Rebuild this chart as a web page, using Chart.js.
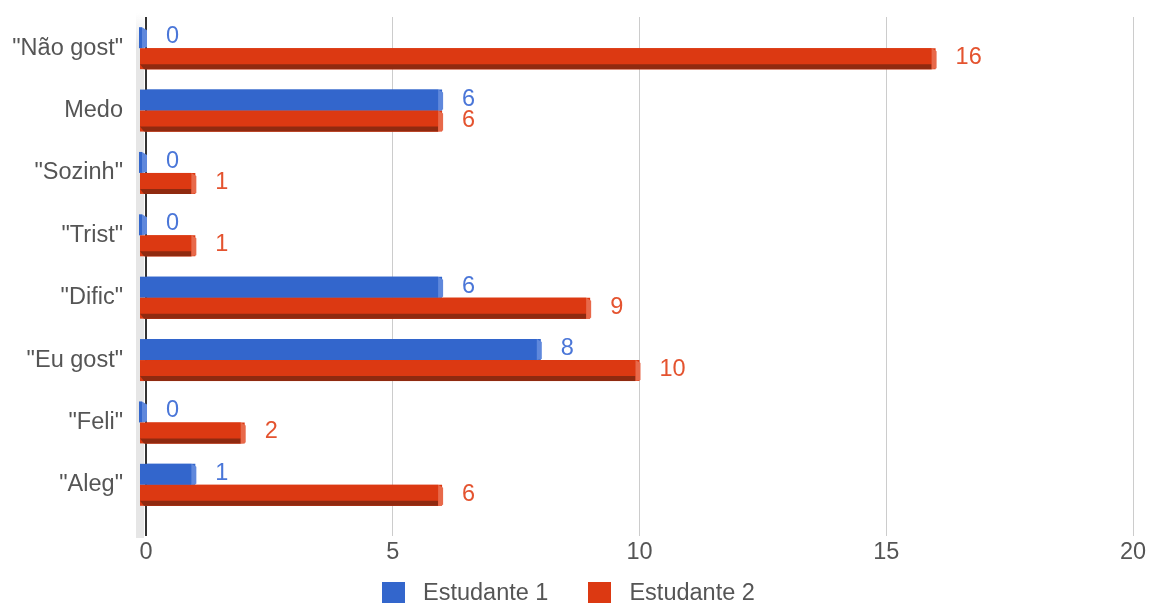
<!DOCTYPE html>
<html>
<head>
<meta charset="utf-8">
<script src="https://cdn.jsdelivr.net/npm/chart.js@4"></script>
<style>
  body { margin: 0; background: #fff; }
  #wrap { position: relative; width: 1158px; height: 605px; }
  #legend { position: absolute; left: 382px; top: 580px; display: flex; align-items: center;
            font: 23.5px "Liberation Sans", Arial, sans-serif; color: #555; line-height: 24px; }
  .item { display: flex; align-items: center; margin-right: 40px; }
  .box { width: 23px; height: 21px; margin-right: 18px; }
</style>
</head>
<body>
<div id="wrap">
  <canvas id="chart" width="1158" height="605"></canvas>
  <div id="legend"></div>
</div>
<script>
// --- 데이터 ---
const categories = ['"Não gost"', 'Medo', '"Sozinh"', '"Trist"', '"Dific"', '"Eu gost"', '"Feli"', '"Aleg"'];
const seriesNames = ['Estudante 1', 'Estudante 2'];
const estudante1 = [0, 6, 0, 0, 6, 8, 0, 1];
const estudante2 = [16, 6, 1, 1, 9, 10, 2, 6];
const xTicks = [0, 5, 10, 15, 20];

const faceColors = ['#3366cc', '#dc3912'];
const sideColors = ['#5f88dc', '#e8694a'];
const darkColors = ['#22469a', '#8f2a10'];
const labelColors = ['#4a76d8', '#e4532f'];
const FONT = '"Liberation Sans", Arial, sans-serif';
const FONT_SIZE = 23.5;

// --- 3D 막대 효과 + 값 라벨 ---
const bar3d = {
    id: 'bar3d',
    beforeDatasetsDraw(chart) {
        const { ctx, chartArea } = chart;
        const g = ctx.createLinearGradient(0, chartArea.top - 4, 0, chartArea.top + 30);
        g.addColorStop(0, 'rgba(230,230,230,0)');
        g.addColorStop(1, 'rgba(230,230,230,1)');
        ctx.save();
        ctx.fillStyle = g;
        ctx.fillRect(chartArea.left - 10, chartArea.top - 4, 8, chartArea.bottom - chartArea.top + 26);
        ctx.restore();
    },
    afterDatasetsDraw(chart) {
        const ctx = chart.ctx;
        const last = chart.data.datasets.length - 1;
        ctx.save();
        chart.data.datasets.forEach((ds, i) => {
            const meta = chart.getDatasetMeta(i);
            meta.data.forEach((bar, j) => {
                const top = bar.y - bar.height / 2;
                const bottom = bar.y + bar.height / 2;
                const left = bar.base - 7;
                const right = bar.x;

                ctx.fillStyle = faceColors[i];
                ctx.fillRect(left, top, right - 4 - left, bar.height);

                if (i === last) {
                    ctx.fillStyle = darkColors[i];
                    ctx.beginPath();
                    ctx.moveTo(left, bottom - 5);
                    ctx.lineTo(right - 4, bottom - 5);
                    ctx.lineTo(right - 4, bottom);
                    ctx.lineTo(left + 4, bottom);
                    ctx.closePath();
                    ctx.fill();
                }

                ctx.fillStyle = sideColors[i];
                ctx.beginPath();
                ctx.moveTo(right - 4, top);
                ctx.lineTo(right + 1, top + 3);
                ctx.lineTo(right + 1, bottom - 1);
                ctx.lineTo(right - 4, bottom);
                ctx.closePath();
                ctx.fill();

                ctx.fillStyle = labelColors[i];
                ctx.font = FONT_SIZE + 'px ' + FONT;
                ctx.textAlign = 'left';
                ctx.textBaseline = 'middle';
                ctx.fillText(String(ds.data[j]), bar.x + 20, bar.y - 1);
            });
        });
        ctx.restore();
    }
};

function buildLegend() {
    const legend = document.getElementById('legend');
    seriesNames.forEach((name, i) => {
        legend.insertAdjacentHTML('beforeend',
            `<div class="item"><div class="box" style="background:${faceColors[i]}"></div><span>${name}</span></div>`);
    });
}

buildLegend();

new Chart(document.getElementById('chart'), {
    type: 'bar',
    data: {
        labels: categories,
        datasets: [
            { label: seriesNames[0], data: estudante1, backgroundColor: faceColors[0] },
            { label: seriesNames[1], data: estudante2, backgroundColor: faceColors[1] }
        ]
    },
    options: {
        indexAxis: 'y',
        responsive: false,
        animation: false,
        devicePixelRatio: 1,
        categoryPercentage: 0.673,
        barPercentage: 1,
        layout: { padding: { top: 17, right: 25, bottom: 0, left: 0 } },
        plugins: { legend: { display: false }, tooltip: { enabled: false } },
        scales: {
            x: {
                min: xTicks[0],
                max: xTicks[xTicks.length - 1],
                afterBuildTicks: scale => { scale.ticks = xTicks.map(v => ({ value: v })); },
                afterFit: scale => { scale.height = 89; scale.paddingLeft = 0; scale.paddingRight = 0; },
                border: { display: false },
                grid: {
                    color: c => c.tick && c.tick.value === 0 ? '#333' : '#ccc',
                    lineWidth: c => c.tick && c.tick.value === 0 ? 2 : 1,
                    tickLength: 20
                },
                ticks: { padding: 2, color: '#555', font: { size: FONT_SIZE, family: FONT } }
            },
            y: {
                afterFit: scale => { scale.width = 146; scale.paddingTop = 0; scale.paddingBottom = 0; },
                border: { display: false },
                grid: { display: false, drawTicks: false },
                ticks: { padding: 23, labelOffset: 0, color: '#555', font: { size: FONT_SIZE, family: FONT } }
            }
        }
    },
    plugins: [bar3d]
});
</script>
</body>
</html>
